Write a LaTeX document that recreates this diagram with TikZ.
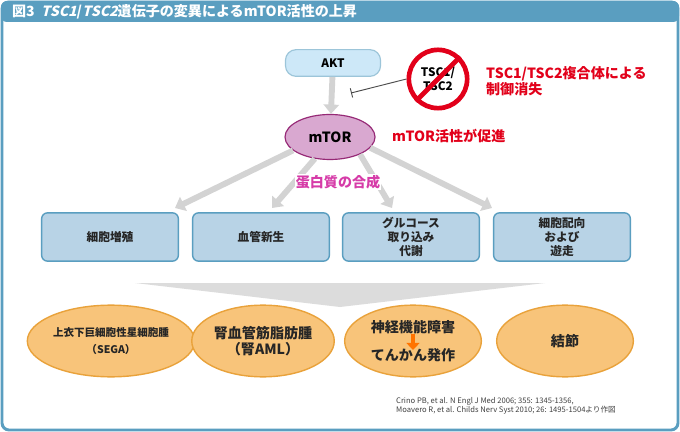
\documentclass[tikz,border=0pt]{standalone}
\usepackage{fontspec}
\setmainfont{Noto Sans CJK JP}
\newcommand{\slantit}[1]{{\addfontfeature{FakeSlant=0.25}#1}}
\usetikzlibrary{shapes.geometric,arrows.meta}
\definecolor{frameblue}{HTML}{5A9EC0}
\definecolor{boxblue}{HTML}{B8D3E6}
\definecolor{aktblue}{HTML}{CDE8F8}
\definecolor{mtorpink}{HTML}{D9A8D0}
\definecolor{ovalorange}{HTML}{F8C47A}
\definecolor{lineorange}{HTML}{E9A23B}
\definecolor{ngred}{HTML}{E2001A}
\definecolor{magent}{HTML}{D63BA8}
\definecolor{arrowgray}{HTML}{D3D3D3}
\tikzset{
  effect/.style={rectangle, rounded corners=5pt, draw=frameblue, line width=1.2pt, fill=boxblue,
    minimum width=4.1cm, minimum height=1.45cm, align=center, font=\bfseries, text=black!85},
  disease/.style={ellipse, draw=lineorange, line width=1.2pt, fill=ovalorange,
    minimum width=4.1cm, minimum height=2.15cm, inner sep=1pt, align=center, font=\bfseries\large, text=black!85},
  grayarrow/.style={line width=5pt, draw=arrowgray, -{Triangle[length=8pt,width=13pt]}},
  redtext/.style={text=ngred, font=\bfseries\large, align=left, anchor=west}
}
\begin{document}
\begin{tikzpicture}[x=0.03cm, y=-0.03cm]
  \useasboundingbox (0,0) rectangle (680,432);
  % frame and title
  \draw[frameblue, line width=2.5pt, fill=white, rounded corners=6pt] (2,2) rectangle (678,430);
  \fill[frameblue, rounded corners=5pt] (1,1) rectangle (679,22);
  \node[anchor=west, text=white, font=\bfseries\large] (title) at (8,12)
    {図3\ \ \slantit{TSC1}/\slantit{TSC2}遺伝子の変異によるmTOR活性の上昇};

  % AKT and mTOR
  \node[rectangle, rounded corners=9pt, draw=frameblue!60, line width=1pt, fill=aktblue,
    minimum width=2.85cm, minimum height=0.8cm, font=\bfseries] (akt) at (333,63) {AKT};
  \node[ellipse, draw=magent!70!black, line width=1pt, fill=mtorpink,
    minimum width=2.7cm, minimum height=1.35cm, font=\bfseries\large] (mtor) at (330,137) {mTOR};
  \draw[grayarrow] (akt) -- (mtor);

  % TSC1/TSC2 blocked
  \node[circle, draw=ngred, line width=4pt, minimum size=1.75cm, align=center,
    font=\bfseries, inner sep=0pt] (tsc) at (438,79) {TSC1/\\TSC2};
  \draw[ngred, line width=4pt] (tsc.north east) -- (tsc.south west);
  \coordinate (block) at (351,93);
  \draw[black!70, line width=0.8pt, -{Bar[width=8pt]}] (tsc.west) -- (block);
  \node[redtext] (lost) at (482,81) {TSC1/TSC2複合体による\\制御消失};
  \node[redtext] (promote) at (388,136) {mTOR活性が促進};

  % effects
  \node[effect] (prolif) at (110,237) {細胞増殖};
  \node[effect] (angio) at (261,237) {血管新生};
  \node[effect] (gluc) at (411,237) {グルコース\\取り込み\\代謝};
  \node[effect] (migr) at (562,237) {細胞配向\\および\\遊走};
  \draw[grayarrow] (mtor.200) -- (175,208);
  \draw[grayarrow] (mtor.235) -- (272,208);
  \draw[grayarrow] (mtor.330) -- (392,208);
  \draw[grayarrow] (mtor.345) -- (492,208);
  \node[text=magent, font=\bfseries\large, fill=white, inner sep=1pt] (synth) at (338,182) {蛋白質の合成};

  % funnel
  \fill[arrowgray!80] (135,283) -- (545,283) -- (340,307) -- cycle;

  % diseases
  \node[disease] (sega) at (111,341) {\small 上衣下巨細胞性星細胞腫\\\small （SEGA）};
  \node[disease] (aml) at (263,341) {腎血管筋脂肪腫\\（腎AML）};
  \node[disease] (neuro) at (413,341) {神経機能障害\\[10pt]てんかん発作};
  \node[disease] (nodule) at (565,341) {結節};
  \draw[line width=4pt, draw=orange!90!red, -{Triangle[length=6pt,width=11pt]}] (413,334) -- (413,350);

  % source
  \node[anchor=north west, font=\fontsize{6.5}{8}\selectfont, text=black!75, align=left] (cite) at (392,393)
    {Crino PB, et al. N Engl J Med 2006; 355: 1345-1356,\\Moavero R, et al. Childs Nerv Syst 2010; 26: 1495-1504より作図};
\end{tikzpicture}
\end{document}
